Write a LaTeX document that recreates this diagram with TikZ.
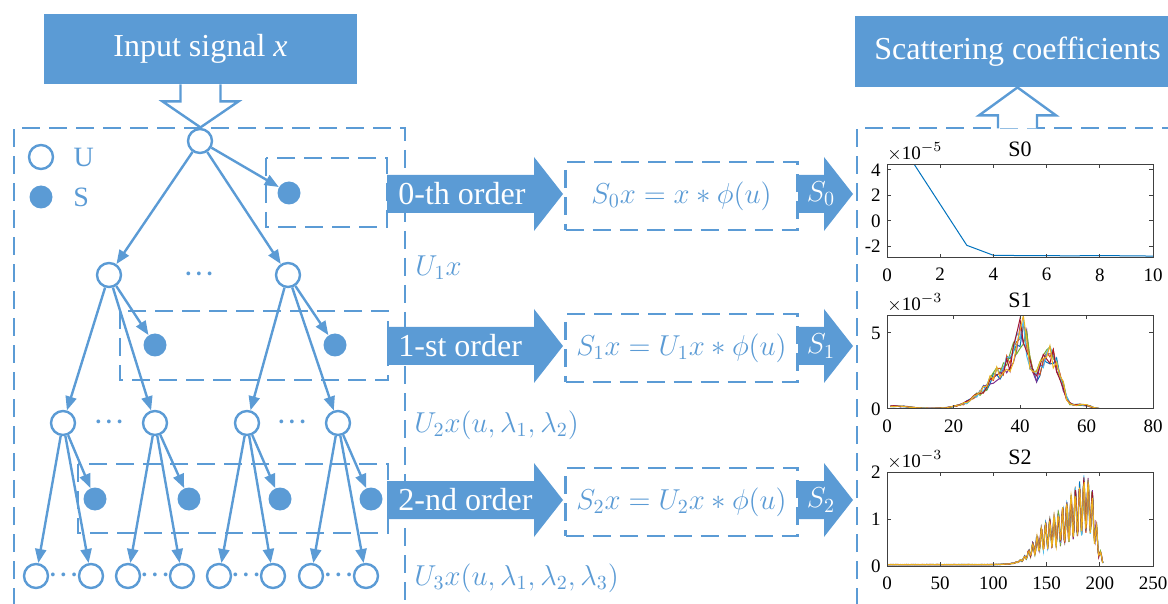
\documentclass[tikz,border=0pt]{standalone}
\usepackage{fontspec}
\setmainfont{Liberation Serif}
\usetikzlibrary{arrows.meta, positioning, calc}
\definecolor{netblue}{HTML}{5B9BD5}
\definecolor{axgray}{HTML}{404040}
\definecolor{mlA}{HTML}{0072BD}
\definecolor{mlB}{HTML}{D95319}
\definecolor{mlC}{HTML}{EDB120}
\definecolor{mlD}{HTML}{7E2F8E}
\definecolor{mlE}{HTML}{77AC30}
\definecolor{mlF}{HTML}{4DBEEE}
\definecolor{mlG}{HTML}{A2142F}

\begin{document}
\begin{tikzpicture}[
    x=0.5pt, y=-0.5pt,
    >={Triangle[length=7pt, width=5.5pt]},
    every node/.style={inner sep=0pt},
    declare function={
        bump(\xv,\mv,\sv)=exp(-1*((\xv-\mv)/\sv)*((\xv-\mv)/\sv));
        sig(\xv,\cv,\wv)=1/(1+exp(min(9,(\cv-\xv)/\wv)));
    },
    titlebox/.style={
        fill=netblue, text=white, font=\fontsize{16}{19}\selectfont
    },
    unode/.style={circle, draw=netblue, line width=1.2pt, fill=white, minimum size=12pt},
    snode/.style={circle, fill=netblue, minimum size=11.5pt},
    tedge/.style={->, netblue, line width=1.2pt},
    dashbox/.style={draw=netblue, line width=1.3pt, dash pattern=on 9pt off 4.5pt},
    hollow/.style={draw=netblue, line width=1.2pt, fill=white, line join=miter},
    mlabel/.style={text=netblue, font=\fontsize{14}{17}\selectfont},
    dots/.style={text=netblue, font=\fontsize{16}{19}\selectfont, yshift=-1.5pt},
    axframe/.style={draw=axgray, line width=0.5pt},
    axlabel/.style={font=\fontsize{9.5}{11}\selectfont, text=black},
    mline/.style={line width=0.5pt},
]
\useasboundingbox (0,0) rectangle (1168,604);
\clip (0,0) rectangle (1168,604);

% ============ INPUT / OUTPUT ============
\node[titlebox, minimum width=156.5pt, minimum height=35pt] (input) at (200.5,49) {Input signal \textit{x}};
\node[titlebox, minimum width=162.5pt, minimum height=35.5pt] (scat) at (1017.5,51.5) {Scattering coefficients};

% big dashed frames
\draw[dashbox] (14,660) -- (14,128) -- (405,128) -- (405,660);
\draw[dashbox] (857,660) -- (857,128) -- (1200,128);

% hollow arrows
\draw[hollow] ($(input.south)+(-20,0)$) -- ++(0,17) -- ++(-18,0) -- ($(input.south)+(0,43)$)
    -- ++(38,-26) -- ++(-18,0) -- ++(0,-17);
\draw[hollow] ($(scat.south)+(-19.5,41)$) -- ++(0,-13) -- ++(-19,0) -- (scat.south)
    -- ++(38.5,28) -- ++(-19,0) -- ++(0,13);

% ============ LEGEND ============
\node[unode] (uleg) at (41,157) {};
\node[snode] (sleg) at (41,197) {};
\node[mlabel, right=9.5pt of uleg] (ulegtxt) {U};
\node[mlabel, right=10pt of sleg] (slegtxt) {S};

% ============ TREE ============
% dashed groups of S nodes
\draw[dashbox] (266,158) rectangle (387,227);
\draw[dashbox] (120,311) rectangle (388,380);
\draw[dashbox] (78,464) rectangle (388,533);

\node[unode] (r) at (200,141) {};
\node[snode] (s0) at (289,193) {};

\node[unode] (a1) at (109,275) {};
\node[unode] (a2) at (288,275) {};
\node[dots] (dotsa) at (199,275) {···};
\node[snode] (s11) at (155,345) {};
\node[snode] (s12) at (335,345) {};

\foreach \i/\xp in {1/63, 2/155, 3/247, 4/338}
    \node[unode] (b\i) at (\xp,423) {};
\node[dots] (dotsb1) at (109,423) {···};
\node[dots] (dotsb2) at (292,423) {···};
\foreach \i/\xp in {1/95, 2/189, 3/280, 4/371}
    \node[snode] (s2\i) at (\xp,499) {};

\foreach \i/\xp in {1/36, 2/91, 3/128, 4/182, 5/219, 6/273, 7/311, 8/366}
    \node[unode] (c\i) at (\xp,576) {};
\foreach \i/\j in {1/2, 3/4, 5/6, 7/8}
    \node[dots] (dotsc\i) at ($(c\i)!0.5!(c\j)$) {···};

% edges
\foreach \p/\c in {r/a1, r/a2, r/s0,
                   a1/b1, a1/b2, a1/s11, a2/b3, a2/b4, a2/s12,
                   b1/c1, b1/c2, b1/s21, b2/c3, b2/c4, b2/s22,
                   b3/c5, b3/c6, b3/s23, b4/c7, b4/c8, b4/s24}
    \draw[tedge] (\p) -- (\c);

% ============ ORDERS ============
\foreach \y/\n/\ord/\form in {194/0/0-th order/{S_0x = x * \phi(u)},
                              346/1/1-st order/{S_1x = U_1x * \phi(u)},
                              500/2/2-nd order/{S_2x = U_2x * \phi(u)}} {
    \fill[netblue] (387,\y-19) -- (534,\y-19) -- (534,\y-37) -- (563,\y)
        -- (534,\y+37) -- (534,\y+19) -- (387,\y+19) -- cycle;
    \node[titlebox, fill=none, anchor=west] (ord\n) at (398,\y) {\ord};
    \node[dashbox, mlabel, minimum width=116pt, minimum height=34pt] (form\n) at (681.5,\y+2) {$\form$};
    \fill[netblue] (798,\y-19) -- (824,\y-19) -- (824,\y-37) -- (853,\y)
        -- (824,\y+37) -- (824,\y+19) -- (798,\y+19) -- cycle;
    \node[mlabel, text=white] (sout\n) at (821,\y) {$S_\n$};
}

% propagated signals
\node[mlabel, anchor=west] (u1) at (415,268) {$U_1x$};
\node[mlabel, anchor=west] (u2) at (414,425) {$U_2x(u,\lambda_1,\lambda_2)$};
\node[mlabel, anchor=west] (u3) at (414,578) {$U_3x(u,\lambda_1,\lambda_2,\lambda_3)$};

% ============ PLOTS ============
\pgfmathsetseed{5}

% S0
\begin{scope}[shift={(887,221)}, x=13.3pt, y=6.4pt]
    \begin{scope}
        \clip (0,-2.89) rectangle (10,4.45);
        \draw[mline, mlA] plot coordinates {(1,4.5) (2,1.3) (3,-1.9) (4,-2.68) (5,-2.7)
            (6,-2.71) (7,-2.72) (8,-2.7) (9,-2.72) (10,-2.74)};
    \end{scope}
    \draw[axframe] (0,-2.89) rectangle (10,4.45);
    \foreach \v in {0,2,...,10} {
        \draw[axframe] (\v,-2.89) -- ++(0pt,2pt) (\v,4.45) -- ++(0pt,-2pt);
        \node[axlabel, anchor=north] at ([yshift=-5pt]\v,-2.89) {\v};
    }
    \foreach \v in {-2,0,2,4} {
        \draw[axframe] (0,\v) -- ++(2pt,0pt) (10,\v) -- ++(-2pt,0pt);
        \node[axlabel, anchor=east] at ([xshift=-3pt]0,\v) {\v};
    }
    \node[axlabel, font=\fontsize{11}{13}\selectfont, anchor=base] (title0) at ([yshift=4pt]5,4.45) {S0};
    \node[axlabel, anchor=base west] (exp0) at ([yshift=2.5pt]0,4.45) {$\times$10$^{-5}$};
\end{scope}

% S1
\begin{scope}[shift={(887,409)}, x=1.6625pt, y=7.6pt]
    \begin{scope}
        \clip (0,0) rectangle (80,6.18);
        \foreach \col in {mlA,mlB,mlD,mlE,mlF,mlG,mlC}
            \draw[mline, \col] plot[domain=1:67, samples=67] (\x, {(0.04*(\x<62)
                + 0.15*bump(\x,3,5) + 2.9*bump(\x,38,10-4*(\x>38))
                + 2.8*bump(\x,41,2.5) + 3.6*bump(\x,48.3,3)
                + 1.4*bump(\x,52,2) + 0.25*bump(\x,58,4))*(1+0.22*rand)});
    \end{scope}
    \draw[axframe] (0,0) rectangle (80,6.18);
    \foreach \v in {0,20,...,80} {
        \draw[axframe] (\v,0) -- ++(0pt,2pt) (\v,6.18) -- ++(0pt,-2pt);
        \node[axlabel, anchor=north] at ([yshift=-5pt]\v,0) {\v};
    }
    \foreach \v in {0,5} {
        \draw[axframe] (0,\v) -- ++(2pt,0pt) (80,\v) -- ++(-2pt,0pt);
        \node[axlabel, anchor=east] at ([xshift=-3pt]0,\v) {\v};
    }
    \node[axlabel, font=\fontsize{11}{13}\selectfont, anchor=base] (title1) at ([yshift=4pt]40,6.18) {S1};
    \node[axlabel, anchor=base west] (exp1) at ([yshift=2.5pt]0,6.18) {$\times$10$^{-3}$};
\end{scope}

% S2
\begin{scope}[shift={(887,566)}, x=0.532pt, y=23.5pt]
    \begin{scope}
        \clip (0,0) rectangle (250,2);
        \foreach \col in {mlA,mlB,mlD,mlE,mlF,mlG,mlC}
            \draw[mline, \col] plot[domain=1:203, samples=405] (\x, {(0.03
                + sig(\x,137,6)*(0.65+0.85*sig(\x,176,9))*(1-sig(\x,196,2.5)))
                *(1 + 0.4*sin(90*mod(\x,4))*sig(\x,130,6) + 0.1*rand)});
    \end{scope}
    \draw[axframe] (0,0) rectangle (250,2);
    \foreach \v in {0,50,...,250} {
        \draw[axframe] (\v,0) -- ++(0pt,2pt) (\v,2) -- ++(0pt,-2pt);
        \node[axlabel, anchor=north] at ([yshift=-5pt]\v,0) {\v};
    }
    \foreach \v in {0,1,2} {
        \draw[axframe] (0,\v) -- ++(2pt,0pt) (250,\v) -- ++(-2pt,0pt);
        \node[axlabel, anchor=east] at ([xshift=-3pt]0,\v) {\v};
    }
    \node[axlabel, font=\fontsize{11}{13}\selectfont, anchor=base] (title2) at ([yshift=4pt]125,2) {S2};
    \node[axlabel, anchor=base west] (exp2) at ([yshift=2.5pt]0,2) {$\times$10$^{-3}$};
\end{scope}

\end{tikzpicture}
\end{document}
